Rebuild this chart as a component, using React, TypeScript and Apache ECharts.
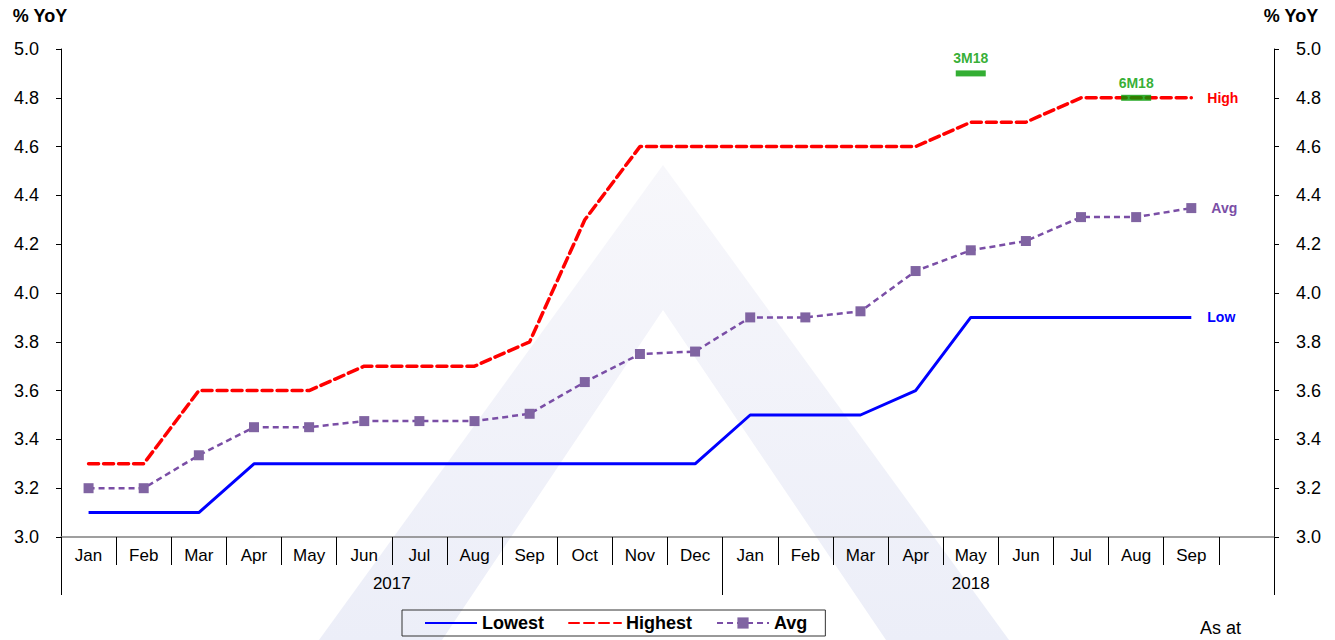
import React, { useEffect, useRef } from "react";
import * as echarts from "echarts";

const months = [
  "Jan", "Feb", "Mar", "Apr", "May", "Jun", "Jul", "Aug", "Sep", "Oct", "Nov", "Dec",
  "Jan", "Feb", "Mar", "Apr", "May", "Jun", "Jul", "Aug", "Sep", "",
];
const years = ["2017", "2018"];
const yearCenters = [6, 16.5];
const yearBounds = [0, 12, 22];

const lowest = [3.1, 3.1, 3.1, 3.3, 3.3, 3.3, 3.3, 3.3, 3.3, 3.3, 3.3, 3.3, 3.5, 3.5, 3.5, 3.6, 3.9, 3.9, 3.9, 3.9, 3.9];
const highest = [3.3, 3.3, 3.6, 3.6, 3.6, 3.7, 3.7, 3.7, 3.8, 4.3, 4.6, 4.6, 4.6, 4.6, 4.6, 4.6, 4.7, 4.7, 4.8, 4.8, 4.8];
const avg = [3.2, 3.2, 3.335, 3.45, 3.45, 3.475, 3.475, 3.475, 3.505, 3.635, 3.75, 3.76, 3.9, 3.9, 3.925, 4.09, 4.175, 4.213, 4.311, 4.311, 4.348];

const endTags = ["Low", "High", "Avg"];
const forecastNames = ["3M18", "6M18"];
const forecastIdx = [16, 19];
const forecastVals = [4.9, 4.8];

const FONT = "'Liberation Sans', Arial, sans-serif";
const GREEN = "#009a00";

export default function App() {
  const ref = useRef<HTMLDivElement>(null);
  useEffect(() => {
    if (!ref.current) return;
    const chart = echarts.init(ref.current, undefined, { renderer: "svg" });
    const yAxisBase = (pos: "left" | "right") => ({
      type: "value",
      position: pos,
      min: 3,
      max: 5,
      interval: 0.2,
      name: "% YoY",
      nameLocation: "end",
      nameGap: 24,
      nameTextStyle: {
        fontFamily: FONT,
        fontWeight: "bold",
        fontSize: 18,
        color: "#000",
        align: "center",
        padding: pos === "left" ? [0, 42, 0, 0] : [0, 0, 0, 34],
      },
      axisLine: { show: true, lineStyle: { color: "#000", width: 1 } },
      axisTick: { show: true, length: 5, lineStyle: { color: "#000" } },
      axisLabel: {
        fontFamily: FONT,
        fontSize: 18,
        color: "#000",
        margin: 22,
        formatter: (v: number) => v.toFixed(1),
      },
      splitLine: { show: false },
    });
    const wmFill = {
      type: "linear",
      x: 0,
      y: 0,
      x2: 0,
      y2: 1,
      colorStops: [
        { offset: 0, color: "#f7f7fb" },
        { offset: 1, color: "#eceef8" },
      ],
    };
    const option: any = {
      animation: false,
      backgroundColor: "#fff",
      textStyle: { fontFamily: FONT },
      grid: { left: 61, right: 61, top: 49, bottom: 103, containLabel: false },
      graphic: [
        {
          type: "polygon",
          z: -10,
          silent: true,
          shape: { points: [[663, 165], [1009, 640], [319, 640]] },
          style: { fill: wmFill },
        },
        {
          type: "polygon",
          z: -9,
          silent: true,
          shape: { points: [[663, 310], [886, 640], [442, 640]] },
          style: { fill: "#ffffff" },
        },
        {
          type: "text",
          left: 1200,
          top: 619,
          style: { text: "As at", fontFamily: FONT, fontSize: 18, fill: "#000" },
        },
      ],
      legend: {
        left: 402,
        top: 610,
        data: [
          { name: "Lowest", itemStyle: { opacity: 0 } },
          { name: "Highest", itemStyle: { opacity: 0 } },
          { name: "Avg" },
        ],
        borderColor: "#333",
        borderWidth: 1,
        padding: [4, 18, 4, 22],
        itemGap: 24,
        itemWidth: 52,
        itemHeight: 14,
        textStyle: { fontFamily: FONT, fontWeight: "bold", fontSize: 18, color: "#000" },
      },
      xAxis: [
        {
          type: "category",
          data: months,
          boundaryGap: true,
          axisLine: { show: true, lineStyle: { color: "#808080", width: 1.5 } },
          axisTick: { show: true, interval: 0, length: 28, lineStyle: { color: "#000" } },
          axisLabel: { interval: 0, fontFamily: FONT, fontSize: 17, color: "#000", margin: 10 },
          splitLine: { show: false },
        },
        {
          type: "value",
          position: "bottom",
          min: 0,
          max: 22,
          axisLine: { show: false },
          axisTick: { show: true, customValues: yearBounds, length: 58, lineStyle: { color: "#000" } },
          axisLabel: {
            show: true,
            customValues: yearCenters,
            fontFamily: FONT,
            fontSize: 17,
            color: "#000",
            margin: 38,
            formatter: (v: number) => years[yearCenters.indexOf(v)] ?? "",
          },
          splitLine: { show: false },
        },
      ],
      yAxis: [yAxisBase("left"), yAxisBase("right")],
      series: [
        {
          name: "Lowest",
          type: "line",
          data: lowest,
          symbol: "none",
          color: "#0000ff",
          lineStyle: { color: "#0000ff", width: 3 },
          endLabel: {
            show: true,
            formatter: endTags[0],
            color: "#0000ff",
            fontFamily: FONT,
            fontWeight: "bold",
            fontSize: 14,
            distance: 16,
          },
          z: 3,
        },
        {
          name: "Highest",
          type: "line",
          data: highest,
          symbol: "none",
          color: "#ff0000",
          lineStyle: { color: "#ff0000", width: 3.5, type: [10, 5], cap: "round" },
          endLabel: {
            show: true,
            formatter: endTags[1],
            color: "#ff0000",
            fontFamily: FONT,
            fontWeight: "bold",
            fontSize: 14,
            distance: 16,
          },
          z: 3,
        },
        {
          name: "Avg",
          type: "line",
          data: avg,
          symbol: "rect",
          symbolSize: 10,
          color: "#8064a2",
          itemStyle: { color: "#8064a2" },
          lineStyle: { color: "#7a4ea6", width: 2.5, type: [6, 4] },
          endLabel: {
            show: true,
            formatter: endTags[2],
            color: "#7a4ea6",
            fontFamily: FONT,
            fontWeight: "bold",
            fontSize: 14,
            distance: 20,
          },
          z: 3,
        },
        {
          name: "Forecast",
          type: "scatter",
          data: forecastNames.map((n, i) => ({ name: n, value: [forecastIdx[i], forecastVals[i]] })),
          symbol: "rect",
          symbolSize: [30, 6],
          itemStyle: { color: GREEN },
          label: {
            show: true,
            position: "top",
            distance: 5,
            formatter: (p: any) => p.name,
            color: GREEN,
            fontFamily: FONT,
            fontWeight: "bold",
            fontSize: 14,
          },
          z: 4,
        },
      ],
    };
    chart.setOption(option);
    return () => chart.dispose();
  }, []);
  return <div ref={ref} style={{ width: 1335, height: 640, position: "absolute", left: 0, top: 0 }} />;
}
